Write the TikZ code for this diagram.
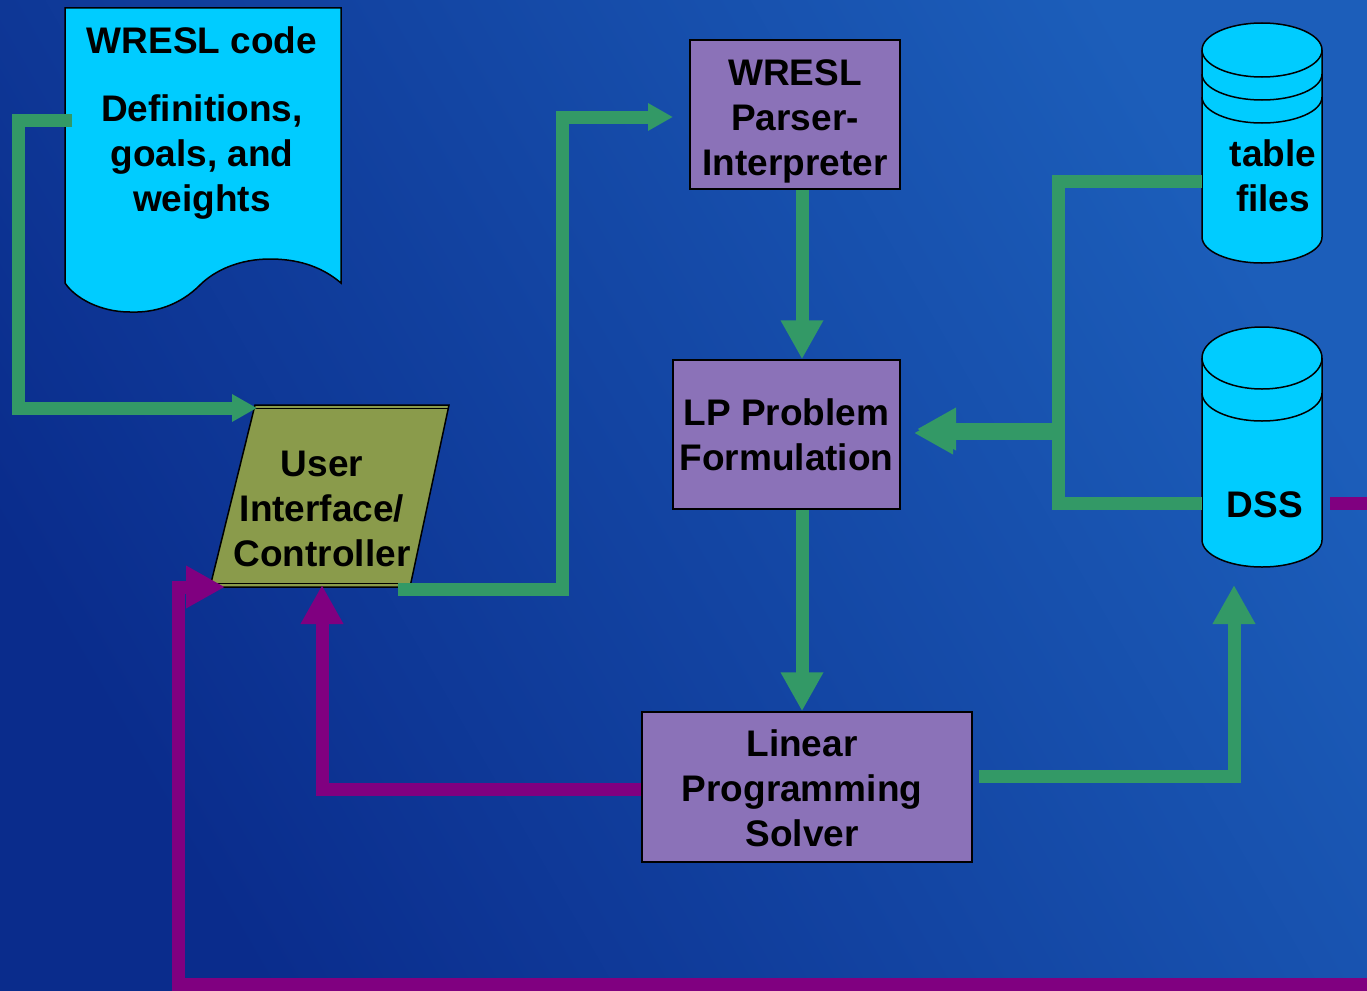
\documentclass[tikz,border=0pt]{standalone}
\usepackage{fontspec}
\setmainfont{Liberation Sans}
\usetikzlibrary{arrows.meta}
\definecolor{bgdark}{HTML}{0A2C8C}
\definecolor{bglight}{HTML}{1C5EBA}
\definecolor{grn}{HTML}{339966}
\definecolor{prp}{HTML}{800080}
\definecolor{cyn}{HTML}{00CCFF}
\definecolor{lav}{HTML}{8B72B8}
\definecolor{olv}{HTML}{8A9B4B}
\tikzset{
  lbl/.style={font=\bfseries\fontsize{37}{45}\selectfont, align=center, inner sep=0pt, text=black},
  box/.style={draw=black, line width=1.5pt, fill=lav, lbl},
  shapeline/.style={draw=black, line width=1.5pt},
  gline/.style={draw=grn, line width=13pt, line join=miter},
  pline/.style={draw=prp, line width=13pt, line join=miter},
  sarrow/.style={-{Triangle[length=25pt,width=26pt]}},
  barrow/.style={-{Triangle[length=39pt,width=40pt]}},
}
\begin{document}
\begin{tikzpicture}[x=1pt,y=-1pt]
\useasboundingbox (0,0) rectangle (1367,990);
\shade[shading=axis, left color=bgdark, right color=bglight, shading angle=120] (0,0) rectangle (1367,990);
\clip (0,0) rectangle (1367,990);

% document shape
\filldraw[shapeline, fill=cyn] (65,8) -- (341,8) -- (341,283)
  .. controls (320,265) and (295,259) .. (270,259)
  .. controls (240,259) and (215,270) .. (200,285)
  .. controls (180,305) and (155,313) .. (130,312)
  .. controls (100,312) and (75,298) .. (65,283) -- cycle;
\node[lbl] (docT) at (202,40) {WRESL code};
\node[lbl] (docB) at (202,157) {Definitions,\\goals, and\\weights};
\coordinate (docL) at (72,120);

% user interface parallelogram
\filldraw[shapeline, fill=olv] (255,405) -- (449,405) -- (410,587) -- (210,587) -- cycle;
\draw[black, line width=1pt] (254.5,408.5) -- (448.3,408.5);
\draw[black, line width=1pt] (211,583.5) -- (410.8,583.5);
\node[lbl] (ui) at (322,509) {User\\Interface/\\Controller};
\coordinate (uiTL) at (257,408);
\coordinate (uiBR) at (398,589);
\coordinate (uiB) at (322,585);
\coordinate (uiBL) at (225,587);

% boxes
\node[box, minimum width=210pt, minimum height=149pt] (parser) at (795,114.5) {\rule{0pt}{40pt}WRESL\\Parser-\\Interpreter};
\node[box, minimum width=227pt, minimum height=149pt] (lp) at (786.5,434.5) {LP Problem\\Formulation};
\node[box, minimum width=330pt, minimum height=150pt] (solver) at (807,787) {\rule{0pt}{30pt}Linear\rule{10pt}{0pt}\\Programming\rule{10pt}{0pt}\\Solver\rule{10pt}{0pt}};
\coordinate (pin) at (673,117);

% table files cylinder
\filldraw[shapeline, fill=cyn] (1202,50) -- (1202,237)
  arc[start angle=180, end angle=360, x radius=60pt, y radius=26pt] -- (1322,50)
  arc[start angle=0, end angle=180, x radius=60pt, y radius=27pt] -- cycle;
\draw[shapeline] (1202,50) arc[start angle=180, end angle=360, x radius=60pt, y radius=27pt];
\draw[shapeline] (1202,74) arc[start angle=180, end angle=360, x radius=60pt, y radius=26pt];
\draw[shapeline] (1202,97) arc[start angle=180, end angle=360, x radius=60pt, y radius=26pt];
\node[lbl] (tbl) at (1273,176) {table\\files};
\coordinate (tblL) at (1202,181);

% DSS cylinder
\filldraw[shapeline, fill=cyn] (1202,358) -- (1202,540)
  arc[start angle=180, end angle=360, x radius=60pt, y radius=27pt] -- (1322,358)
  arc[start angle=0, end angle=180, x radius=60pt, y radius=31pt] -- cycle;
\draw[shapeline] (1202,358) arc[start angle=180, end angle=360, x radius=60pt, y radius=31pt];
\draw[shapeline] (1202,393) arc[start angle=180, end angle=360, x radius=60pt, y radius=28pt];
\node[lbl] (dss) at (1265,505) {DSS};
\coordinate (dssL) at (1202,503);
\coordinate (dssR) at (1330,503);
\coordinate (dssB) at (1234,585);
\coordinate (lpR1) at (917,429);
\coordinate (lpR2) at (914,433);

% green connectors
\draw[gline, sarrow] (docL) -- ++(-54,0) |- (uiTL);
\draw[gline, sarrow] (uiBR) -- ++(164,0) |- (pin);
\draw[gline, barrow] ([xshift=7pt]parser.south) -- ([xshift=7pt]parser.south |- lp.north);
\draw[gline, barrow] ([xshift=15.5pt]lp.south) -- ([xshift=15.5pt]lp.south |- solver.north);
\draw[gline, barrow] ([xshift=6pt, yshift=11pt]solver.east) -| (dssB);
\draw[gline, barrow] (tblL) -- ++(-144,0) |- (lpR1);
\draw[gline, barrow] (dssL) -- ++(-144,0) |- (lpR2);

% purple connectors
\draw[pline, barrow] ([yshift=-2pt]solver.west) -| (uiB);
\draw[pline, barrow] (dssR) -- ++(80,0) -- ++(0,481) -| ++(-1232,-397) -- (uiBL);
\end{tikzpicture}
\end{document}
